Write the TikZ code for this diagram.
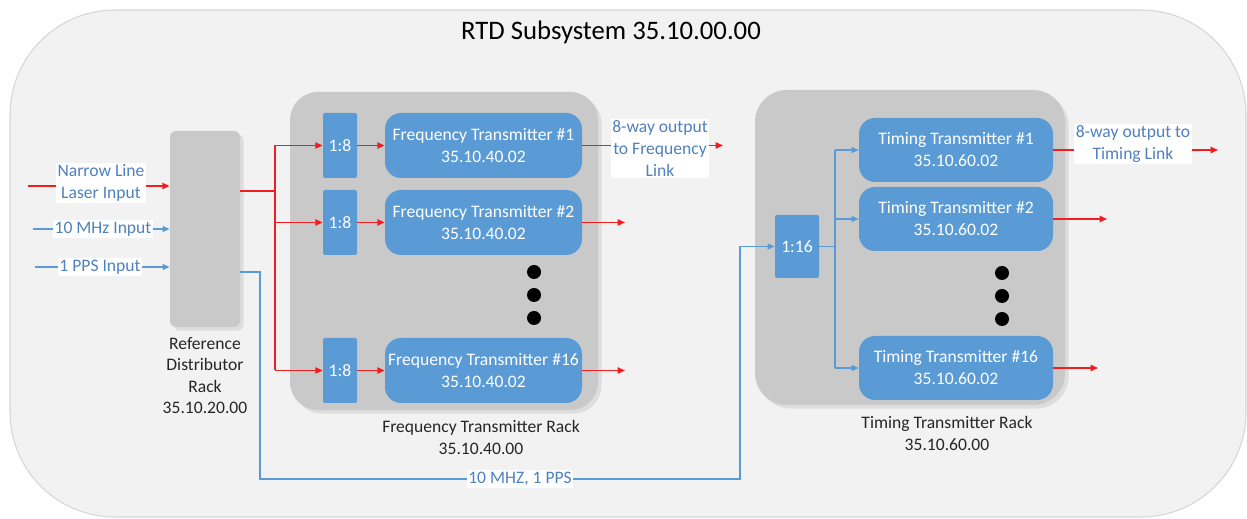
\documentclass[tikz,border=0pt]{standalone}
\usepackage{fontspec}
\setmainfont{Carlito}
\usetikzlibrary{arrows.meta,shadows}
\definecolor{outerbg}{HTML}{F2F2F2}
\definecolor{outerline}{HTML}{D6D6D6}
\definecolor{rackgray}{HTML}{C9C9C9}
\definecolor{boxblue}{HTML}{5B9BD5}
\definecolor{lineblue}{HTML}{5B9BD5}
\definecolor{txtblue}{HTML}{4F81BD}
\definecolor{sigred}{HTML}{F01E1E}
\definecolor{txtdark}{HTML}{262626}
\newlength\pxl
\setlength\pxl{0.02cm}
\tikzset{
  rack/.style={fill=rackgray, draw=none, rounded corners=28*\pxl,
    drop shadow={opacity=0.18, shadow xshift=2pt, shadow yshift=-2pt}},
  refrack/.style={fill=rackgray, draw=none, rounded corners=6*\pxl,
    drop shadow={opacity=0.18, shadow xshift=2pt, shadow yshift=-2pt}},
  splitbox/.style={fill=boxblue, draw=none, rounded corners=2*\pxl, text=white,
    font=\fontsize{10}{12.5}\selectfont, inner sep=0pt},
  txbox/.style={fill=boxblue, draw=none, rounded corners=16*\pxl, text=white,
    align=center, font=\fontsize{10}{12.5}\selectfont, inner sep=0pt,
    minimum height=64*\pxl},
  bluelabel/.style={fill=white, text=txtblue, align=center, inner sep=1pt,
    font=\fontsize{10}{12.5}\selectfont},
  darklabel/.style={text=txtdark, align=center, inner sep=0pt,
    font=\fontsize{10}{12.2}\selectfont},
  redline/.style={draw=sigred, line width=0.9pt},
  redarrow/.style={draw=sigred, line width=0.9pt, -{Triangle[length=4.2pt,width=3.6pt]}},
  blueline/.style={draw=lineblue, line width=0.7pt},
  bluearrow/.style={draw=lineblue, line width=0.7pt, -{Triangle[length=4pt,width=3.4pt]}},
  dot/.style={circle, fill=black, inner sep=0pt, minimum size=14*\pxl},
}
\begin{document}
\begin{tikzpicture}[x=0.02cm, y=-0.02cm]
\useasboundingbox (0,0) rectangle (1247,519);
% outer subsystem
\draw[fill=outerbg, draw=outerline, line width=0.6pt, rounded corners=2.1cm] (10,10) rectangle (1246,517);
\node[font=\fontsize{15.2}{17}\selectfont, text=black] (title) at (611,32) {RTD Subsystem 35.10.00.00};

% reference distributor rack
\node[refrack, minimum width=70*\pxl, minimum height=196*\pxl] (ref) at (205,229) {};
\node[darklabel] (refl) at (205,375.5) {Reference\\Distributor\\Rack\\35.10.20.00};

% frequency transmitter rack
\node[rack, minimum width=308*\pxl, minimum height=318*\pxl] (frack) at (444,251) {};
\node[darklabel] (frl) at (481,437.5) {Frequency Transmitter Rack\\35.10.40.00};

% timing transmitter rack
\node[rack, minimum width=310*\pxl, minimum height=315*\pxl, rounded corners=32*\pxl] (track) at (910,247.5) {};
\node[darklabel] (trl) at (947,433.5) {Timing Transmitter Rack\\35.10.60.00};

% splitters and transmitters (frequency)
\node[splitbox, minimum width=34*\pxl, minimum height=65*\pxl] (s1) at (340,145.5) {1:8};
\node[splitbox, minimum width=34*\pxl, minimum height=65*\pxl] (s2) at (340,222.5) {1:8};
\node[splitbox, minimum width=34*\pxl, minimum height=65*\pxl] (s16) at (340,370.5) {1:8};
\node[txbox, minimum width=197*\pxl, minimum height=65*\pxl] (ft1) at (483.5,145.5) {Frequency Transmitter \#1\\35.10.40.02};
\node[txbox, minimum width=197*\pxl, minimum height=65*\pxl] (ft2) at (483.5,222.5) {Frequency Transmitter \#2\\35.10.40.02};
\node[txbox, minimum width=197*\pxl, minimum height=65*\pxl] (ft16) at (483.5,370.5) {Frequency Transmitter \#16\\35.10.40.02};
\node[dot] (fd1) at (534,272) {};
\node[dot] (fd2) at (534,295) {};
\node[dot] (fd3) at (534,318) {};

% splitter and transmitters (timing)
\node[splitbox, minimum width=44*\pxl, minimum height=63*\pxl] (d16) at (797,246.5) {1:16};
\node[txbox, minimum width=194*\pxl] (tt1) at (956,150) {Timing Transmitter \#1\\35.10.60.02};
\node[txbox, minimum width=194*\pxl] (tt2) at (956,219) {Timing Transmitter \#2\\35.10.60.02};
\node[txbox, minimum width=194*\pxl] (tt16) at (956,368) {Timing Transmitter \#16\\35.10.60.02};
\node[dot] (td1) at (1002,273) {};
\node[dot] (td2) at (1002,296) {};
\node[dot] (td3) at (1002,319) {};

% inputs
\coordinate (inlaser) at (28,186);
\coordinate (in10) at (33,229);
\coordinate (inpps) at (35,267);
\draw[redarrow] (inlaser) -- (inlaser -| ref.west);
\draw[bluearrow] (in10) -- (in10 -| ref.west);
\draw[bluearrow] (inpps) -- (inpps -| ref.west);
\node[bluelabel] (lasl) at (101,183) {Narrow Line\\Laser Input};
\node[bluelabel] (l10) at (103,229) {10 MHz Input};
\node[bluelabel] (lpps) at (100,267) {1 PPS Input};

% red distribution to frequency rack
\coordinate (bus) at (275,191);
\draw[redline] (ref.east |- bus) -- (bus);
\draw[redline] (bus |- s1) -- (bus |- s16);
\draw[redarrow] (bus |- s1) -- (s1.west);
\draw[redarrow] (bus |- s2) -- (s2.west);
\draw[redarrow] (bus |- s16) -- (s16.west);
\draw[redarrow] (s1) -- (ft1);
\draw[redarrow] (s2) -- (ft2);
\draw[redarrow] (s16) -- (ft16);

% frequency outputs
\coordinate (fo1) at (723,145.5);
\coordinate (fo2) at (625,222.5);
\coordinate (fo16) at (625,370.5);
\draw[redarrow] (ft1.east) -- (fo1);
\draw[redarrow] (ft2.east) -- (fo2);
\draw[redarrow] (ft16.east) -- (fo16);
\node[bluelabel, minimum width=97*\pxl] (fol) at (660,148.5) {8-way output\\to Frequency\\Link};

% timing reference line
\coordinate (tp1) at (260,272);
\coordinate (tp2) at (260,479);
\coordinate (tp3) at (740,479);
\draw[blueline] (ref.east |- tp1) -- (tp1) -- (tp2) -- (tp3) -- (tp3 |- d16);
\draw[bluearrow] (tp3 |- d16) -- (d16.west);
\node[bluelabel] (tl) at (520,479) {10 MHZ, 1 PPS};

% timing distribution
\coordinate (tbus) at (835,246.5);
\draw[blueline] (d16.east) -- (tbus);
\draw[blueline] (tbus |- tt1) -- (tbus |- tt16);
\draw[bluearrow] (tbus |- tt1) -- (tt1.west);
\draw[bluearrow] (tbus |- tt2) -- (tt2.west);
\draw[bluearrow] (tbus |- tt16) -- (tt16.west);

% timing outputs
\coordinate (to1) at (1218,150);
\coordinate (to2) at (1107,219);
\coordinate (to16) at (1098,368);
\draw[redarrow] (tt1.east) -- (to1);
\draw[redarrow] (tt2.east) -- (to2);
\draw[redarrow] (tt16.east) -- (to16);
\node[bluelabel, minimum width=117*\pxl] (tol) at (1133,144) {8-way output to\\Timing Link};
\end{tikzpicture}
\end{document}
